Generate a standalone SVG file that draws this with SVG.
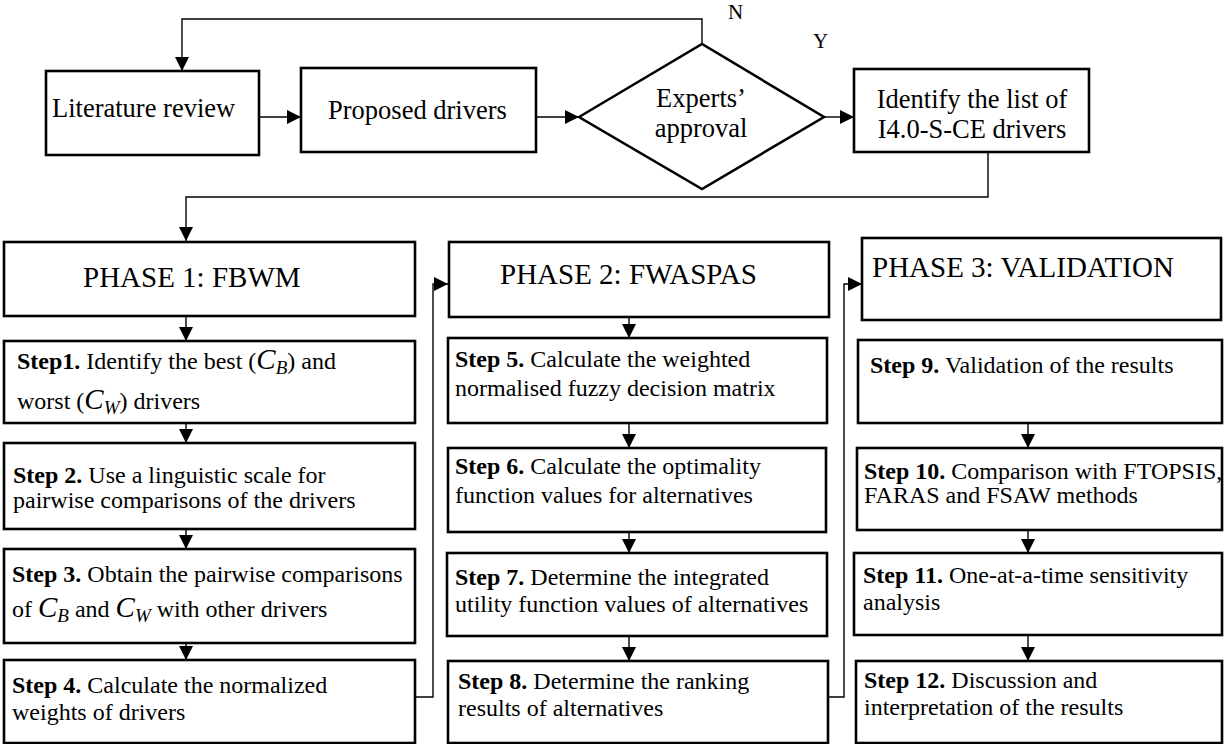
<svg xmlns="http://www.w3.org/2000/svg" width="1224" height="744" viewBox="0 0 1224 744">
<defs>
<marker id="ah" markerUnits="userSpaceOnUse" markerWidth="14" markerHeight="14" refX="14" refY="7" orient="auto">
<path d="M0,0 L14,7 L0,14 z" fill="#000"/>
</marker>
<style>
.box{fill:#fff;stroke:#000;stroke-width:2.6}
.con{fill:none;stroke:#000;stroke-width:1.4}
.arr{fill:none;stroke:#000;stroke-width:1.4;marker-end:url(#ah)}
text{font-family:"Liberation Serif","Times New Roman",serif;fill:#000}
.t{font-size:26.5px}
.ph{font-size:29px}
.s{font-size:24px}
.yn{font-size:21px}
.b{font-weight:bold}
.c{font-style:italic;font-size:29px}
.sub{font-style:italic;font-size:19px}
</style>
</defs>
<rect width="1224" height="744" fill="#fff"/>

<g id="connectors">
<polyline class="arr" points="702,44 702,19 182,19 182,71"/>
<line class="arr" x1="259" y1="117" x2="301" y2="117"/>
<line class="arr" x1="536" y1="117" x2="579" y2="117"/>
<line class="arr" x1="824" y1="117" x2="854" y2="117"/>
<polyline class="arr" points="988,152 988,197 186,197 186,241"/>
<line class="arr" x1="186" y1="316" x2="186" y2="341"/>
<line class="arr" x1="186" y1="423" x2="186" y2="443"/>
<line class="arr" x1="186" y1="529" x2="186" y2="549"/>
<line class="arr" x1="186" y1="643" x2="186" y2="660"/>
<polyline class="arr" points="415,697 433,697 433,284 448,284"/>
<line class="arr" x1="629" y1="317" x2="629" y2="338"/>
<line class="arr" x1="629" y1="423" x2="629" y2="448"/>
<line class="arr" x1="629" y1="532" x2="629" y2="553"/>
<line class="arr" x1="629" y1="636" x2="629" y2="661"/>
<polyline class="arr" points="828,697 844,697 844,284 862,284"/>
<line class="arr" x1="1028" y1="423" x2="1028" y2="448"/>
<line class="arr" x1="1028" y1="530" x2="1028" y2="553"/>
<line class="arr" x1="1028" y1="635" x2="1028" y2="661"/>
</g>

<g id="lit">
<rect class="box" x="46" y="71" width="213" height="84"/>
<text class="t" x="52" y="117">Literature review</text>
</g>
<g id="proposed">
<rect class="box" x="301" y="68" width="235" height="84"/>
<text class="t" x="328" y="119">Proposed drivers</text>
</g>
<g id="approval">
<polygon class="box" points="579,117 702,44 824,117 702,189"/>
<text class="t" x="701" y="107" text-anchor="middle">Experts’</text>
<text class="t" x="701" y="137" text-anchor="middle">approval</text>
</g>
<g id="labels">
<text class="yn" x="728" y="19">N</text>
<text class="yn" x="813" y="48">Y</text>
</g>
<g id="identify">
<rect class="box" x="854" y="69" width="235" height="83"/>
<text class="t" x="972" y="108" text-anchor="middle">Identify the list of</text>
<text class="t" x="972" y="138" text-anchor="middle">I4.0-S-CE drivers</text>
</g>

<g id="phase1">
<rect class="box" x="4" y="242" width="411" height="74"/>
<text class="ph" x="83" y="287">PHASE 1: FBWM</text>
</g>
<g id="step1">
<rect class="box" x="4" y="341" width="411" height="82"/>
<text class="s" x="17" y="369"><tspan class="b">Step1.</tspan> Identify the best (<tspan class="c">C</tspan><tspan class="sub" dy="5">B</tspan><tspan dy="-5">) and</tspan></text>
<text class="s" x="17" y="409">worst (<tspan class="c">C</tspan><tspan class="sub" dy="5">W</tspan><tspan dy="-5">) drivers</tspan></text>
</g>
<g id="step2">
<rect class="box" x="4" y="443" width="411" height="86"/>
<text class="s" x="13" y="483"><tspan class="b">Step 2.</tspan> Use a linguistic scale for</text>
<text class="s" x="13" y="508">pairwise comparisons of the drivers</text>
</g>
<g id="step3">
<rect class="box" x="4" y="549" width="411" height="94"/>
<text class="s" x="12" y="582"><tspan class="b">Step 3.</tspan> Obtain the pairwise comparisons</text>
<text class="s" x="12" y="617">of <tspan class="c">C</tspan><tspan class="sub" dy="5">B</tspan><tspan dy="-5"> and </tspan><tspan class="c">C</tspan><tspan class="sub" dy="5">W</tspan><tspan dy="-5"> with other drivers</tspan></text>
</g>
<g id="step4">
<rect class="box" x="4" y="660" width="411" height="83"/>
<text class="s" x="12" y="693"><tspan class="b">Step 4.</tspan> Calculate the normalized</text>
<text class="s" x="12" y="720">weights of drivers</text>
</g>

<g id="phase2">
<rect class="box" x="449" y="242" width="380" height="75"/>
<text class="ph" x="500" y="284">PHASE 2: FWASPAS</text>
</g>
<g id="step5">
<rect class="box" x="448" y="338" width="379" height="85"/>
<text class="s" x="455" y="367"><tspan class="b">Step 5.</tspan> Calculate the weighted</text>
<text class="s" x="455" y="396">normalised fuzzy decision matrix</text>
</g>
<g id="step6">
<rect class="box" x="448" y="448" width="378" height="84"/>
<text class="s" x="455" y="474"><tspan class="b">Step 6.</tspan> Calculate the optimality</text>
<text class="s" x="455" y="503">function values for alternatives</text>
</g>
<g id="step7">
<rect class="box" x="447" y="553" width="380" height="83"/>
<text class="s" x="455" y="585"><tspan class="b">Step 7.</tspan> Determine the integrated</text>
<text class="s" x="455" y="612">utility function values of alternatives</text>
</g>
<g id="step8">
<rect class="box" x="448" y="661" width="380" height="82"/>
<text class="s" x="458" y="689"><tspan class="b">Step 8.</tspan> Determine the ranking</text>
<text class="s" x="458" y="716">results of alternatives</text>
</g>

<g id="phase3">
<rect class="box" x="862" y="238" width="359" height="82"/>
<text class="ph" x="872" y="277">PHASE 3: VALIDATION</text>
</g>
<g id="step9">
<rect class="box" x="858" y="340" width="364" height="83"/>
<text class="s" x="870" y="373"><tspan class="b">Step 9.</tspan> Validation of the results</text>
</g>
<g id="step10">
<rect class="box" x="857" y="448" width="365" height="82"/>
<text class="s" x="864" y="479"><tspan class="b">Step 10.</tspan> Comparison with FTOPSIS,</text>
<text class="s" x="864" y="503">FARAS and FSAW methods</text>
</g>
<g id="step11">
<rect class="box" x="854" y="553" width="368" height="82"/>
<text class="s" x="863" y="583"><tspan class="b">Step 11.</tspan> One-at-a-time sensitivity</text>
<text class="s" x="863" y="610">analysis</text>
</g>
<g id="step12">
<rect class="box" x="856" y="661" width="366" height="82"/>
<text class="s" x="864" y="688"><tspan class="b">Step 12.</tspan> Discussion and</text>
<text class="s" x="864" y="715">interpretation of the results</text>
</g>
</svg>
